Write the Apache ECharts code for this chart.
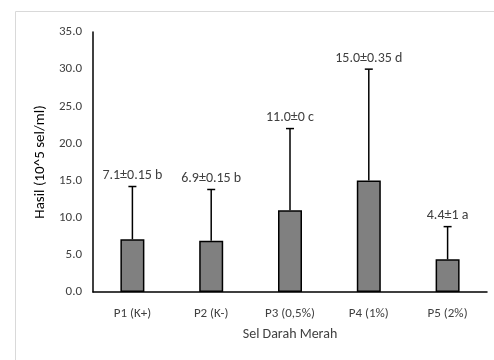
<!DOCTYPE html>
<html>
<head>
<meta charset="utf-8">
<script src="https://cdn.jsdelivr.net/npm/echarts@6/dist/echarts.min.js"></script>
<style>
  html, body { margin: 0; padding: 0; background: #fff; }
  #main { width: 494px; height: 360px; }
</style>
</head>
<body>
<div id="main"></div>
<script>
var categories = ['P1 (K+)', 'P2 (K-)', 'P3 (0,5%)', 'P4 (1%)', 'P5 (2%)'];
var values = [7.1, 6.9, 11.0, 15.0, 4.4];
var errorTops = [14.2, 13.8, 22.0, 30.0, 8.8];
var barLabels = ['7.1±0.15 b', '6.9±0.15 b', '11.0±0 c', '15.0±0.35 d', '4.4±1 a'];

var font = 'Carlito, "Liberation Sans", sans-serif';

var myChart = echarts.init(document.getElementById('main'));

var option = {
  animation: false,
  textStyle: { fontFamily: font },
  graphic: [{
    type: 'rect',
    shape: { x: 15.5, y: 11.5, width: 520, height: 400 },
    style: { fill: 'none', stroke: '#d9d9d9', lineWidth: 1 },
    silent: true
  }],
  grid: { left: 93, right: 7, top: 32, bottom: 68 },
  xAxis: {
    type: 'category',
    data: categories,
    name: 'Sel Darah Merah',
    nameLocation: 'middle',
    nameGap: 35,
    nameTextStyle: { fontSize: 14, color: '#404040', fontFamily: font },
    axisLine: { lineStyle: { color: '#000', width: 1.5 } },
    axisTick: { show: false },
    axisLabel: { fontSize: 13, color: '#404040', margin: 15, fontFamily: font }
  },
  yAxis: {
    type: 'value',
    min: 0,
    max: 35,
    interval: 5,
    name: 'Hasil (10^5 sel/ml)',
    nameLocation: 'middle',
    nameGap: 45,
    nameTextStyle: { fontSize: 15, color: '#000', fontFamily: font },
    axisLine: { show: true, lineStyle: { color: '#000', width: 1.5 } },
    axisTick: { show: false },
    splitLine: { show: false },
    axisLabel: {
      fontSize: 13, color: '#404040', margin: 11, fontFamily: font,
      formatter: function (v) { return v.toFixed(1); }
    }
  },
  series: [{
    type: 'bar',
    data: values,
    barWidth: 24,
    itemStyle: { color: '#808080', borderColor: '#000', borderWidth: 1.5 }
  }, {
    type: 'custom',
    data: values.map(function (v, i) { return [i, v, errorTops[i]]; }),
    z: 1,
    renderItem: function (params, api) {
      var base = api.coord([api.value(0), api.value(1)]);
      var top = api.coord([api.value(0), api.value(2)]);
      var i = params.dataIndex;
      return {
        type: 'group',
        children: [{
          type: 'line',
          shape: { x1: base[0], y1: base[1], x2: top[0], y2: top[1] },
          style: { stroke: '#000', lineWidth: 1.5 }
        }, {
          type: 'line',
          shape: { x1: top[0] - 4, y1: top[1], x2: top[0] + 4, y2: top[1] },
          style: { stroke: '#000', lineWidth: 1.5 }
        }, {
          type: 'text',
          style: {
            text: barLabels[i],
            x: top[0],
            y: top[1] - 4,
            textAlign: 'center',
            textVerticalAlign: 'bottom',
            fill: '#404040',
            font: '14px ' + font
          }
        }]
      };
    }
  }]
};

myChart.setOption(option);
window.addEventListener('resize', function () {
  myChart.resize();
});
</script>
</body>
</html>
